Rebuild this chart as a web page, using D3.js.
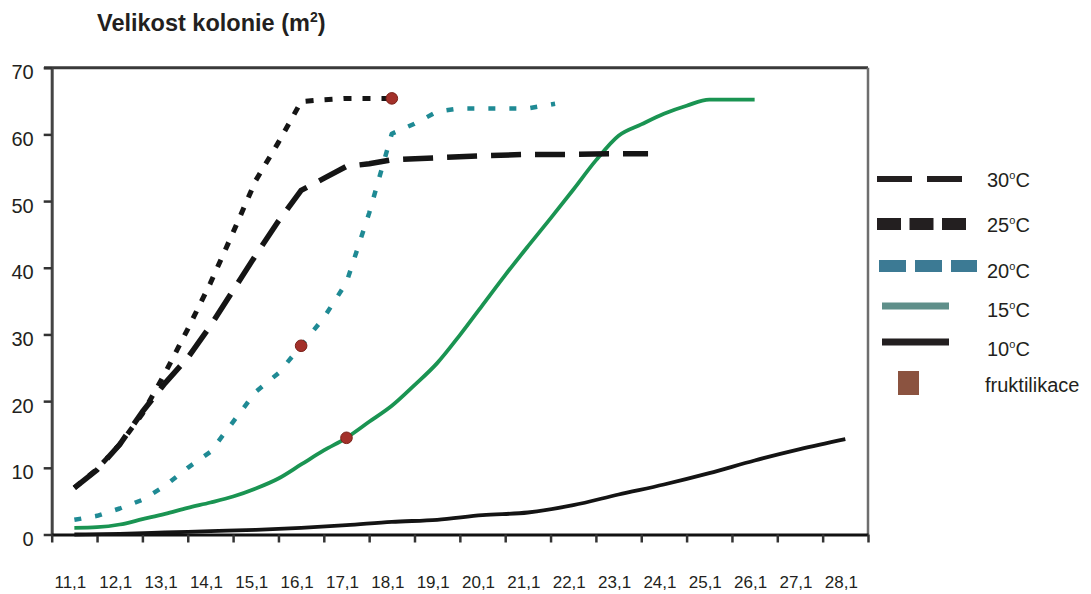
<!DOCTYPE html>
<html>
<head>
<meta charset="utf-8">
<script src="https://cdn.jsdelivr.net/npm/d3@7"></script>
<style>
  body { margin: 0; background: #fff; }
  svg { display: block; font-family: "Liberation Sans", Arial, sans-serif; }
</style>
</head>
<body>
<svg id="chart" width="1091" height="594"></svg>
<script>
// Category labels along the time axis (day, month)
const days = d3.range(11, 29);
const dayLabels = ["11,1", "12,1", "13,1", "14,1", "15,1", "16,1", "17,1", "18,1", "19,1",
                   "20,1", "21,1", "22,1", "23,1", "24,1", "25,1", "26,1", "27,1", "28,1"];
const yTicks = [0, 10, 20, 30, 40, 50, 60, 70];

// Colony size (m²) per temperature
const x30 = [11, 11.5, 12, 12.5, 13, 13.5, 14, 14.5, 15, 15.5, 16, 16.5, 17, 17.5, 18, 19, 20, 21, 22, 23, 23.65];
const y30 = [7.0, 9.7, 13.5, 18.4, 22.7, 26.5, 31.3, 36.6, 41.9, 47.0, 51.6, 53.4, 55.2, 55.6, 56.2, 56.5, 56.8, 57.0, 57.0, 57.1, 57.1];

const x25 = [11, 11.5, 12, 12.5, 13, 13.5, 14, 14.5, 15, 15.5, 16, 16.5, 17, 17.5, 18];
const y25 = [7.0, 9.8, 13.5, 18.1, 24.2, 30.8, 37.7, 45.3, 53.1, 58.8, 64.9, 65.2, 65.4, 65.4, 65.4];

const x20 = [11, 11.5, 12, 12.5, 13, 13.5, 14, 14.5, 15, 15.5, 16, 16.5, 17, 17.5, 18, 18.5, 19, 19.5, 20, 21, 21.6];
const y20 = [2.2, 2.8, 3.9, 5.2, 7.3, 10.0, 12.4, 16.9, 21.4, 24.2, 28.3, 32.5, 37.8, 48.2, 60.1, 61.6, 63.4, 63.9, 63.9, 63.9, 64.6];

const x15 = [11, 11.5, 12, 12.5, 13, 13.5, 14, 14.5, 15, 15.5, 16, 16.5, 17, 17.5, 18, 18.5, 19, 19.5,
             20, 20.5, 21, 21.5, 22, 22.5, 23, 23.5, 24, 24.5, 25, 26];
const y15 = [1.0, 1.1, 1.5, 2.3, 3.1, 4.0, 4.8, 5.7, 6.9, 8.4, 10.5, 12.6, 14.5, 16.9, 19.3, 22.4, 25.7, 29.9,
             34.4, 38.9, 43.2, 47.4, 51.7, 56.1, 59.8, 61.5, 63.1, 64.3, 65.2, 65.2];

const x10 = [11, 12, 13, 14, 15, 16, 17, 18, 19, 20, 21, 22, 23, 24, 25, 26, 27, 28];
const y10 = [0.0, 0.1, 0.3, 0.5, 0.7, 1.0, 1.4, 1.9, 2.2, 2.9, 3.3, 4.4, 6.0, 7.5, 9.2, 11.1, 12.8, 14.3];

// Fruiting events: which series and on which day
const fruitSeries = ["25", "20", "15"];
const fruitDays = [18, 16, 17];

const series = [
  { key: "10", xs: x10, ys: y10, stroke: "#141414", width: 3.8, dash: null, smooth: true,
    lg: { stroke: "#231f20", width: 7, dash: null, x0: 882, x1: 949 } },
  { key: "15", xs: x15, ys: y15, stroke: "#1a9452", width: 3.8, dash: null, smooth: true,
    lg: { stroke: "#5f8f8a", width: 7, dash: null, x0: 882, x1: 949 } },
  { key: "20", xs: x20, ys: y20, stroke: "#1f8a94", width: 4.5, dash: "7,14", smooth: false,
    lg: { stroke: "#3c7a94", width: 12, dash: "27,9", x0: 879, x1: 977 } },
  { key: "30", xs: x30, ys: y30, stroke: "#151515", width: 5.5, dash: "30,14", smooth: false,
    lg: { stroke: "#231f20", width: 6, dash: "35,15", x0: 877, x1: 962 } },
  { key: "25", xs: x25, ys: y25, stroke: "#151515", width: 5, dash: "8,11", smooth: false,
    lg: { stroke: "#231f20", width: 12, dash: "24,8.5", x0: 877, x1: 966 } }
];

const svg = d3.select("#chart");
svg.append("rect").attr("width", 1091).attr("height", 594).attr("fill", "#fff");

const plotLeft = 51.7, plotRight = 868, plotTop = 67.7, plotBottom = 534.5;
const x = d3.scaleLinear().domain([10.5, 28.5]).range([plotLeft, plotRight]);
const y = d3.scaleLinear().domain([0, 70]).range([plotBottom, plotTop]);

// Title
const title = svg.append("text")
  .attr("x", 97).attr("y", 31)
  .style("font-size", "23.5px").attr("font-weight", "bold").attr("fill", "#231f20");
title.append("tspan").text("Velikost kolonie (m");
title.append("tspan").style("font-size", "14px").attr("dy", -9).text("2");
title.append("tspan").attr("dy", 9).text(")");

// Frame: top and right edges
svg.append("line").attr("x1", 44).attr("x2", plotRight).attr("y1", plotTop).attr("y2", plotTop)
  .attr("stroke", "#3a3a3a").attr("stroke-width", 3);
svg.append("line").attr("x1", plotRight).attr("x2", plotRight).attr("y1", plotTop).attr("y2", plotBottom)
  .attr("stroke", "#6e6e6e").attr("stroke-width", 2.5);

// Y axis
const yAxis = svg.append("g").attr("transform", `translate(${plotLeft},0)`)
  .call(d3.axisLeft(y).tickValues(yTicks).tickSize(8).tickPadding(10).tickSizeOuter(0));
yAxis.select(".domain").attr("stroke", "#444").attr("stroke-width", 3);
yAxis.selectAll(".tick line").attr("stroke", "#333").attr("stroke-width", 2.5);
yAxis.selectAll(".tick text").style("font-size", "20px").attr("fill", "#231f20")
  .style("font-family", "'Liberation Sans', Arial, sans-serif").attr("dy", "0.55em");

// X axis: ticks at category boundaries
const xTickVals = d3.range(10.5, 28.6, 1);
const xAxis = svg.append("g").attr("transform", `translate(0,${plotBottom})`)
  .call(d3.axisBottom(x).tickValues(xTickVals).tickSize(8).tickFormat("").tickSizeOuter(0));
xAxis.select(".domain").attr("stroke", "#111").attr("stroke-width", 3);
xAxis.selectAll(".tick line").attr("stroke", "#333").attr("stroke-width", 2.5);

// Category labels within each interval
svg.append("g")
  .selectAll("text").data(days).join("text")
  .attr("x", d => x(d)).attr("y", 588).attr("dx", -4)
  .attr("text-anchor", "middle")
  .attr("fill", "#231f20")
  .style("font-size", "17px")
  .text((d, i) => dayLabels[i]);

// Curves
const lineLin = d3.line().x(d => x(d[0])).y(d => y(d[1])).curve(d3.curveLinear);
const lineSmooth = d3.line().x(d => x(d[0])).y(d => y(d[1])).curve(d3.curveMonotoneX);
const plot = svg.append("g");
series.forEach(s => {
  const pts = s.xs.map((v, i) => [v, s.ys[i]]);
  plot.append("path").datum(pts)
    .attr("d", s.smooth ? lineSmooth : lineLin)
    .attr("fill", "none")
    .attr("stroke", s.stroke)
    .attr("stroke-width", s.width)
    .attr("stroke-linejoin", "round")
    .attr("stroke-dasharray", s.dash);
});

// Fruiting markers, placed on their series' curve
const fruitPts = fruitSeries.map((k, i) => {
  const s = series.find(d => d.key === k);
  const j = s.xs.indexOf(fruitDays[i]);
  return [fruitDays[i], s.ys[j]];
});
plot.selectAll("circle.fruit").data(fruitPts).join("circle")
  .attr("class", "fruit")
  .attr("cx", d => x(d[0])).attr("cy", d => y(d[1]))
  .attr("r", 5.8)
  .attr("fill", "#a3302a").attr("stroke", "#7a2018").attr("stroke-width", 1);

// Legend
const legendOrder = ["30", "25", "20", "15", "10"];
const rowY = [179, 224, 266, 306, 342];
const textY = [186.7, 231.7, 278.3, 316.7, 356];
const lg = svg.append("g");
legendOrder.forEach((k, i) => {
  const s = series.find(d => d.key === k);
  lg.append("line")
    .attr("x1", s.lg.x0).attr("x2", s.lg.x1).attr("y1", rowY[i]).attr("y2", rowY[i])
    .attr("stroke", s.lg.stroke).attr("stroke-width", s.lg.width)
    .attr("stroke-dasharray", s.lg.dash);
  const t = lg.append("text").attr("x", 987).attr("y", textY[i])
    .style("font-size", "20px").attr("fill", "#231f20");
  t.append("tspan").text(k);
  t.append("tspan").style("font-size", "11px").attr("dy", -8).text("o");
  t.append("tspan").attr("dy", 8).text("C");
});
lg.append("rect").attr("x", 898).attr("y", 371).attr("width", 21).attr("height", 24)
  .attr("fill", "#8b5340");
lg.append("text").attr("x", 985).attr("y", 392).style("font-size", "20px").attr("fill", "#231f20")
  .text("fruktilikace");
</script>
</body>
</html>
